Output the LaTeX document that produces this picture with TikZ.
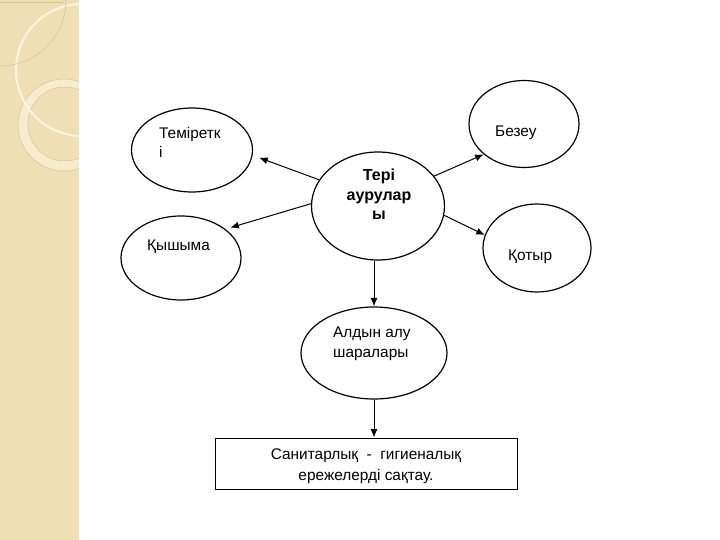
\documentclass[tikz,border=0pt]{standalone}
\usepackage{fontspec}
\setmainfont{Liberation Sans}
\usetikzlibrary{shapes.geometric,arrows.meta}
\definecolor{strip}{RGB}{238,223,181}
\definecolor{ringfill}{RGB}{246,235,203}
\definecolor{tanline}{RGB}{214,193,150}
\definecolor{creamline}{RGB}{252,248,230}
\tikzset{
  ell/.style={ellipse, draw, line width=1.2pt, inner sep=0pt},
  arr/.style={line width=1pt, -{Latex[length=8.5pt,width=7pt]}},
  lbl/.style={inner sep=0pt, anchor=base west, font=\fontsize{15.4}{19.5}\selectfont},
  lblc/.style={inner sep=0pt, anchor=base, font=\fontsize{15.4}{19.5}\selectfont},
  lblb/.style={inner sep=0pt, anchor=base, font=\fontsize{16}{19.5}\selectfont\bfseries},
}
\begin{document}
\begin{tikzpicture}[x=1pt,y=-1pt]
\useasboundingbox (0,0) rectangle (720,540);
% decorative strip
\fill[strip] (0,0) rectangle (79,540);
\begin{scope}
  \clip (0,0) rectangle (79,540);
  \fill[ringfill, even odd rule] (64,125) circle[radius=46] (65,124) circle[radius=37];
  \draw[tanline, line width=0.5pt] (64,125) circle[radius=46];
  \draw[tanline, line width=0.5pt] (65,124) circle[radius=37];
  \draw[creamline, line width=2pt, opacity=0.9] (82,70) circle[radius=66];
  \draw[tanline, line width=0.5pt] (0,0) circle[radius=66];
  \draw[tanline, line width=0.5pt] (0,2) -- (63,2);
\end{scope}
% ellipses
\node[ell, minimum width=133pt, minimum height=108pt] (c) at (378,206) {};
\node[ell, minimum width=121pt, minimum height=84pt] (t1) at (192,150) {};
\node[ell, minimum width=120pt, minimum height=84pt] (k) at (181,258) {};
\node[ell, minimum width=110pt, minimum height=87pt] (b) at (524,124) {};
\node[ell, minimum width=108pt, minimum height=88pt] (q) at (537,248) {};
\node[ell, minimum width=146pt, minimum height=92pt] (a) at (374,353) {};
\node[draw, line width=1pt, minimum width=302pt, minimum height=51pt, inner sep=0pt] (r) at (366,463.5) {};
% texts
\node[lblb] (c1) at (379,181) {Тері};
\node[lblb] (c2) at (379,201) {аурулар};
\node[lblb] (c3) at (379,220) {ы};
\node[lbl] (t1a) at (159,139) {Теміретк};
\node[lbl] (t1b) at (159,158) {і};
\node[lbl] (kt) at (147,251) {Қышыма};
\node[lbl] (bt) at (495,137) {Безеу};
\node[lbl] (qt) at (508,260) {Қотыр};
\node[lbl] (a1) at (333,337) {Алдын алу};
\node[lbl] (a2) at (333,357) {шаралары};
\node[lblc] (r1) at (366,459) {Санитарлық\ \ -\ \ гигиеналық};
\node[lblc] (r2) at (366,480) {ережелерді сақтау.};
% connectors
\draw[arr, shorten >=7pt] (c.156) -- (t1.-5);
\draw[arr, shorten >=5pt] (c.178) -- (k.33);
\draw[arr] (c.28) -- (b.217);
\draw[arr] (c.-8) -- (q.166);
\draw[arr] (c.south -| a.north) -- (a.north);
\draw[arr] (a.south) -- (a.south |- r.north);
\end{tikzpicture}
\end{document}
